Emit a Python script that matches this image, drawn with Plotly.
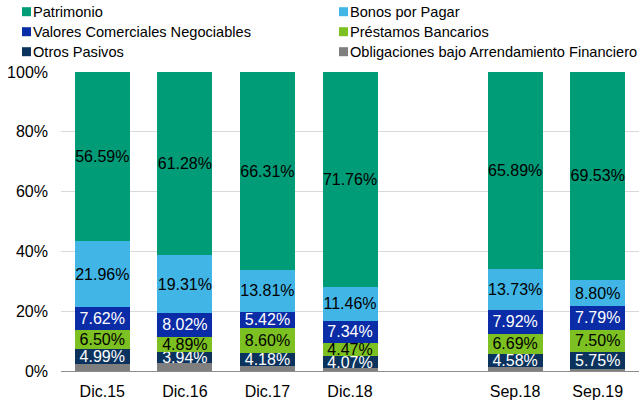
import plotly.graph_objects as go

categories = ["Dic.15", "Dic.16", "Dic.17", "Dic.18", " ", "Sep.18", "Sep.19"]

obligaciones = [2.34, 2.56, 1.68, 0.90, None, 1.19, 0.63]
otros_pasivos = [4.99, 3.94, 4.18, 4.07, None, 4.58, 5.75]
prestamos = [6.50, 4.89, 8.60, 4.47, None, 6.69, 7.50]
valores = [7.62, 8.02, 5.42, 7.34, None, 7.92, 7.79]
bonos = [21.96, 19.31, 13.81, 11.46, None, 13.73, 8.80]
patrimonio = [56.59, 61.28, 66.31, 71.76, None, 65.89, 69.53]

series = [
    ("Obligaciones bajo Arrendamiento Financiero", obligaciones, "#7F7F7F", None),
    ("Otros Pasivos", otros_pasivos, "#0B335E", "white"),
    ("Préstamos Bancarios", prestamos, "#7CC021", "black"),
    ("Valores Comerciales Negociables", valores, "#0A2CA6", "white"),
    ("Bonos por Pagar", bonos, "#41B6E6", "black"),
    ("Patrimonio", patrimonio, "#009B77", "black"),
]

FONT = "Liberation Sans, Arial, sans-serif"
W, H = 639, 402
L, R, T, B = 61, 0, 72, 31
pw, ph = W - L - R, H - T - B

fig = go.Figure()
for name, vals, color, tcolor in series:
    yv = [None if v is None else v / 100 for v in vals]
    txt = ["" if (v is None or tcolor is None) else f"{v:.2f}%" for v in vals]
    fig.add_trace(go.Bar(
        x=categories, y=yv, name=name, marker_color=color,
        marker_line_width=0,
        text=txt, textposition="inside", insidetextanchor="middle",
        textangle=0,
        textfont=dict(family=FONT, size=16, color=tcolor or "black"),
        showlegend=False, hoverinfo="skip",
    ))

# manual legend (positions in window pixels)
legend_items = [
    ("Patrimonio", "#009B77", 22, 11.7),
    ("Bonos por Pagar", "#41B6E6", 339, 11.7),
    ("Valores Comerciales Negociables", "#0A2CA6", 22, 31.7),
    ("Préstamos Bancarios", "#7CC021", 339, 31.7),
    ("Otros Pasivos", "#0B335E", 22, 51.7),
    ("Obligaciones bajo Arrendamiento Financiero", "#7F7F7F", 339, 51.7),
]

def px_x(p):
    return (p - L) / pw

def px_y(p):
    return (H - B - p) / ph

shapes = []
annotations = []
for label, color, mx, cy in legend_items:
    shapes.append(dict(type="rect", xref="paper", yref="paper",
                       x0=px_x(mx), x1=px_x(mx + 9),
                       y0=px_y(cy + 4.5), y1=px_y(cy - 4.5),
                       fillcolor=color, line_width=0))
    annotations.append(dict(text=label, xref="paper", yref="paper",
                            x=px_x(mx + 9), y=px_y(cy), xanchor="left",
                            yanchor="middle", showarrow=False,
                            font=dict(family=FONT, size=14.6, color="black")))

fig.update_layout(
    barmode="stack", bargap=0.334,
    width=W, height=H,
    margin=dict(l=L, r=R, t=T, b=B),
    paper_bgcolor="white", plot_bgcolor="white",
    font=dict(family=FONT, size=16, color="black"),
    uniformtext=dict(minsize=16, mode="show"),
    shapes=shapes, annotations=annotations,
)
fig.update_xaxes(
    type="category", categoryorder="array", categoryarray=categories,
    showline=True, linecolor="#8C8C8C", linewidth=1,
    showgrid=False, ticks="", ticklabelstandoff=6,
    tickfont=dict(family=FONT, size=16, color="black"),
)
fig.update_yaxes(
    range=[0, 1], tickvals=[0, 0.2, 0.4, 0.6, 0.8, 1.0], tickformat=".0%",
    showgrid=True, gridcolor="#D9D9D9", gridwidth=1,
    zeroline=False, showline=False, ticks="", ticklabelstandoff=12,
    tickfont=dict(family=FONT, size=16, color="black"),
)

fig.write_html(
    "out.html",
    config={"displayModeBar": False},
    post_script="document.body.style.margin='0';document.body.style.overflow='hidden';",
)
